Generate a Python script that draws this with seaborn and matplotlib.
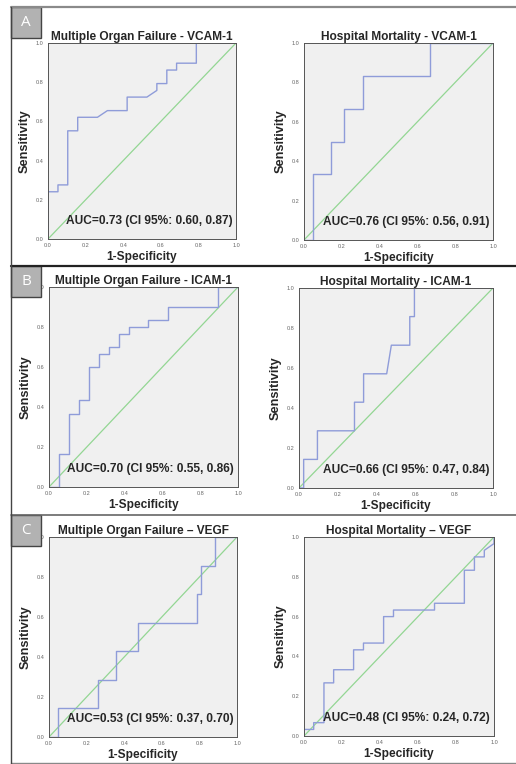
import numpy as np
import pandas as pd
import matplotlib
matplotlib.use("Agg")
import matplotlib.pyplot as plt
import seaborn as sns
from matplotlib.lines import Line2D
from matplotlib.patches import Rectangle

sns.set_style("white")
plt.rcParams['font.family'] = ['Liberation Sans', 'DejaVu Sans']

# ROC curve vertices (1-specificity, sensitivity)
mof_vcam_fpr = [0, 0, 0.053, 0.053, 0.105, 0.105, 0.158, 0.158, 0.263, 0.316, 0.421, 0.421, 0.526, 0.579, 0.579, 0.632, 0.632, 0.684, 0.684, 0.789, 0.789, 1.0]
mof_vcam_tpr = [0, 0.241, 0.241, 0.276, 0.276, 0.552, 0.552, 0.621, 0.621, 0.655, 0.655, 0.724, 0.724, 0.758, 0.793, 0.793, 0.862, 0.862, 0.897, 0.897, 1.0, 1.0]

hm_vcam_fpr = [0, 0.048, 0.048, 0.143, 0.143, 0.214, 0.214, 0.31, 0.31, 0.667, 0.667, 1.0]
hm_vcam_tpr = [0, 0, 0.333, 0.333, 0.5, 0.5, 0.667, 0.667, 0.833, 0.833, 1.0, 1.0]

mof_icam_fpr = [0, 0.053, 0.053, 0.105, 0.105, 0.158, 0.158, 0.211, 0.211, 0.263, 0.263, 0.316, 0.316, 0.368, 0.368, 0.421, 0.421, 0.526, 0.526, 0.632, 0.632, 0.895, 0.895, 1.0]
mof_icam_tpr = [0, 0, 0.167, 0.167, 0.367, 0.367, 0.433, 0.433, 0.6, 0.6, 0.667, 0.667, 0.7, 0.7, 0.767, 0.767, 0.8, 0.8, 0.833, 0.833, 0.9, 0.9, 1.0, 1.0]

hm_icam_fpr = [0, 0.024, 0.024, 0.095, 0.095, 0.286, 0.286, 0.333, 0.333, 0.452, 0.476, 0.571, 0.571, 0.595, 0.595, 1.0]
hm_icam_tpr = [0, 0, 0.143, 0.143, 0.286, 0.286, 0.429, 0.429, 0.571, 0.571, 0.714, 0.714, 0.857, 0.857, 1.0, 1.0]

mof_vegf_fpr = [0, 0.046, 0.046, 0.26, 0.26, 0.356, 0.356, 0.475, 0.475, 0.786, 0.786, 0.81, 0.81, 0.883, 0.883, 1.0]
mof_vegf_tpr = [0, 0, 0.143, 0.143, 0.286, 0.286, 0.429, 0.429, 0.571, 0.571, 0.714, 0.714, 0.857, 0.857, 1.0, 1.0]

hm_vegf_fpr = [0, 0, 0.051, 0.051, 0.105, 0.105, 0.156, 0.156, 0.261, 0.261, 0.313, 0.313, 0.419, 0.419, 0.471, 0.471, 0.687, 0.687, 0.844, 0.844, 0.897, 0.897, 0.949, 0.949, 1.0, 1.0]
hm_vegf_tpr = [0, 0.033, 0.033, 0.067, 0.067, 0.267, 0.267, 0.333, 0.333, 0.433, 0.433, 0.467, 0.467, 0.6, 0.6, 0.633, 0.633, 0.667, 0.667, 0.833, 0.833, 0.9, 0.9, 0.933, 0.967, 1.0]

titles = ["Multiple Organ Failure - VCAM-1", "Hospital Mortality - VCAM-1",
          "Multiple Organ Failure - ICAM-1", "Hospital Mortality - ICAM-1",
          "Multiple Organ Failure \u2013 VEGF", "Hospital Mortality \u2013 VEGF"]
auc_labels = ["AUC=0.73 (CI 95%: 0.60, 0.87)", "AUC=0.76 (CI 95%: 0.56, 0.91)",
              "AUC=0.70 (CI 95%: 0.55, 0.86)", "AUC=0.66 (CI 95%: 0.47, 0.84)",
              "AUC=0.53 (CI 95%: 0.37, 0.70)", "AUC=0.48 (CI 95%: 0.24, 0.72)"]
panel_letters = ["A", "B", "C"]

curves = [(mof_vcam_fpr, mof_vcam_tpr), (hm_vcam_fpr, hm_vcam_tpr),
          (mof_icam_fpr, mof_icam_tpr), (hm_icam_fpr, hm_icam_tpr),
          (mof_vegf_fpr, mof_vegf_tpr), (hm_vegf_fpr, hm_vegf_tpr)]

W, H = 516, 764
fig = plt.figure(figsize=(W / 100, H / 100), dpi=100)

# axes boxes in pixels: left, right, top, bottom
boxes = [(48, 236, 43, 239), (304, 493, 43, 240),
         (49, 238, 287, 487), (299, 493, 288, 488),
         (49, 237, 537, 737), (304, 494, 537, 736)]

roc_color = "#8f9cd9"
diag_color = "#93d693"
ticks = [0.0, 0.2, 0.4, 0.6, 0.8, 1.0]

for i, (l, r, t, b) in enumerate(boxes):
    ax = fig.add_axes([l / W, 1 - b / H, (r - l) / W, (b - t) / H])
    ax.set_facecolor("#f0f0f0")
    fpr, tpr = curves[i]
    df = pd.DataFrame({"fpr": fpr, "tpr": tpr})
    sns.lineplot(x=[0, 1], y=[0, 1], ax=ax, color=diag_color, lw=0.9)
    sns.lineplot(data=df, x="fpr", y="tpr", ax=ax, sort=False, estimator=None,
                 color=roc_color, lw=1.0)
    ax.set_xlim(0, 1)
    ax.set_ylim(0, 1)
    ax.set_xticks(ticks)
    ax.set_yticks(ticks)
    ax.set_xticklabels([f"{v:.1f}" for v in ticks])
    ax.set_yticklabels([f"{v:.1f}" for v in ticks])
    ax.tick_params(labelsize=4, colors="#666666", length=2, width=0.5, pad=1)
    for s in ax.spines.values():
        s.set_color("#555555")
        s.set_linewidth(0.7)
    ax.set_title(titles[i], fontsize=8.6, fontweight="bold", pad=2)
    ax.set_xlabel("1-Specificity", fontsize=8.6, fontweight="bold", labelpad=2)
    ax.set_ylabel("Sensitivity", fontsize=9.2, fontweight="bold", labelpad=4)
    ax.text(0.98, 0.09, auc_labels[i], transform=ax.transAxes, ha="right",
            va="center", fontsize=8.6, fontweight="bold")


def hline(y, x0, x1, color, lw):
    fig.add_artist(Line2D([x0 / W, x1 / W], [1 - y / H, 1 - y / H],
                          transform=fig.transFigure, color=color, lw=lw))


# frame and separators
hline(7, 11, W, "#8a8a8a", 1.6)
hline(266, 11, W, "#222222", 1.6)
hline(515, 11, W, "#666666", 1.2)
hline(763, 11, W, "#888888", 1.0)
fig.add_artist(Line2D([11 / W, 11 / W], [1 - 7 / H, 0], transform=fig.transFigure,
                      color="#444444", lw=1.0))

# panel letter boxes
for letter, top in zip(panel_letters, [7, 266, 515]):
    fig.add_artist(Rectangle((11 / W, 1 - (top + 31) / H), 30 / W, 31 / H,
                             transform=fig.transFigure, facecolor="#b2b2b2",
                             edgecolor="#444444", lw=1.0))
    fig.text(26 / W, 1 - (top + 16) / H, letter, color="white", fontsize=11,
             ha="center", va="center", family=["Open Sans", "DejaVu Sans"])

fig.savefig("out.png", dpi=100)
